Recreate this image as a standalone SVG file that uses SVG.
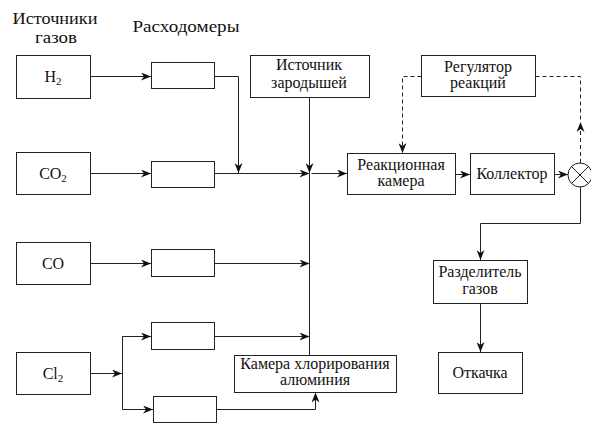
<svg xmlns="http://www.w3.org/2000/svg" width="591" height="423" viewBox="0 0 591 423">
<style>
.box{fill:#fff;stroke:#222;stroke-width:1}
.t{font-size:16px;fill:#111;text-anchor:middle}
.h{font-size:16px;fill:#111;text-anchor:middle}
.ln{fill:none;stroke:#222;stroke-width:1}
.ds{fill:none;stroke:#222;stroke-width:1;stroke-dasharray:4,3}
</style>
<defs>
<marker id="ar" viewBox="0 0 10 8" refX="10" refY="4" markerWidth="10" markerHeight="8" markerUnits="userSpaceOnUse" orient="auto">
<path d="M0,0 L10,4 L0,8 L3,4 z" fill="#111"/>
</marker>
</defs>
<rect width="591" height="423" fill="#fff"/>
<g font-family="Liberation Serif, Times New Roman, serif">
<g id="headings">
<text class="h" x="55" y="24" textLength="85" lengthAdjust="spacingAndGlyphs">Источники</text>
<text class="h" x="56" y="43" textLength="42" lengthAdjust="spacingAndGlyphs">газов</text>
<text class="h" x="186" y="32" textLength="107" lengthAdjust="spacingAndGlyphs">Расходомеры</text>
</g>
<g id="h2"><rect class="box" x="16.5" y="55.5" width="74" height="43"/><text class="t" x="53" y="82">H<tspan font-size="11" dy="3">2</tspan></text></g>
<g id="co2"><rect class="box" x="16.5" y="152.5" width="74" height="42"/><text class="t" x="53" y="179">CO<tspan font-size="11" dy="3">2</tspan></text></g>
<g id="co"><rect class="box" x="16.5" y="242.5" width="74" height="42"/><text class="t" x="53" y="269">CO</text></g>
<g id="cl2"><rect class="box" x="16.5" y="352.5" width="74" height="42"/><text class="t" x="53" y="379">Cl<tspan font-size="11" dy="3">2</tspan></text></g>
<g id="m1"><rect class="box" x="151.5" y="62.5" width="63" height="26"/></g>
<g id="m2"><rect class="box" x="151.5" y="161.5" width="63" height="26"/></g>
<g id="m3"><rect class="box" x="151.5" y="249.5" width="63" height="27"/></g>
<g id="m4"><rect class="box" x="151.5" y="322.5" width="63" height="27"/></g>
<g id="m5"><rect class="box" x="153.5" y="396.5" width="63" height="26"/></g>
<g id="seed"><rect class="box" x="250.5" y="55.5" width="119" height="42"/><text class="t" x="309" y="70">Источник</text><text class="t" x="309" y="88">зародышей</text></g>
<g id="reg"><rect class="box" x="421.5" y="55.5" width="114" height="41"/><text class="t" x="478" y="72">Регулятор</text><text class="t" x="478" y="88">реакций</text></g>
<g id="reactor"><rect class="box" x="347.5" y="153.5" width="108" height="41"/><text class="t" x="401" y="170">Реакционная</text><text class="t" x="401" y="186">камера</text></g>
<g id="collector"><rect class="box" x="470.5" y="153.5" width="84" height="41"/><text class="t" x="512" y="179">Коллектор</text></g>
<g id="mixer"><circle class="ln" cx="580" cy="175" r="12" fill="#fff"/><path class="ln" d="M571.5,166.5 L588.5,183.5 M588.5,166.5 L571.5,183.5"/></g>
<g id="sep"><rect class="box" x="433.5" y="260.5" width="94" height="43"/><text class="t" x="480" y="277">Разделитель</text><text class="t" x="480" y="294">газов</text></g>
<g id="pump"><rect class="box" x="438.5" y="352.5" width="84" height="41"/><text class="t" x="480" y="378">Откачка</text></g>
<g id="chlor"><rect class="box" x="234.5" y="355.5" width="162" height="37"/><text class="t" x="315" y="369">Камера хлорирования</text><text class="t" x="315" y="385">алюминия</text></g>
</g>
<g id="connectors">
<path class="ln" d="M90.5,76.5 H151" marker-end="url(#ar)"/>
<path class="ln" d="M214.5,76.5 H238.5 V173" marker-end="url(#ar)"/>
<path class="ln" d="M90.5,173.5 H151" marker-end="url(#ar)"/>
<path class="ln" d="M214.5,173.5 H309.5" marker-end="url(#ar)"/>
<path class="ln" d="M309.5,97.5 V173" marker-end="url(#ar)"/>
<path class="ln" d="M90.5,263.5 H151" marker-end="url(#ar)"/>
<path class="ln" d="M214.5,263.5 H309.5" marker-end="url(#ar)"/>
<path class="ln" d="M309.5,173.5 V355.5"/>
<path class="ln" d="M311.5,173.5 H347" marker-end="url(#ar)"/>
<path class="ln" d="M90.5,373.5 H122" marker-end="url(#ar)"/>
<path class="ln" d="M151,336.5 H122.5 V409.5 H153" marker-end="url(#ar)"/>
<path class="ln" d="M122.5,336.5 H151" marker-end="url(#ar)"/>
<path class="ln" d="M214.5,336.5 H309.5" marker-end="url(#ar)"/>
<path class="ln" d="M216.5,409.5 H315.5 V392.5" marker-end="url(#ar)"/>
<path class="ln" d="M455.5,174.5 H470" marker-end="url(#ar)"/>
<path class="ln" d="M554.5,174.5 H568" marker-end="url(#ar)"/>
<path class="ds" d="M421.5,76.5 H402.5 V153" marker-end="url(#ar)"/>
<path class="ds" d="M535.5,76.5 H580.5 V122"/>
<path class="ds" d="M580.5,163 V122" marker-end="url(#ar)"/>
<path class="ln" d="M580.5,187 V223.5 H480.5 V260" marker-end="url(#ar)"/>
<path class="ln" d="M480.5,303.5 V352" marker-end="url(#ar)"/>
</g>
</svg>
